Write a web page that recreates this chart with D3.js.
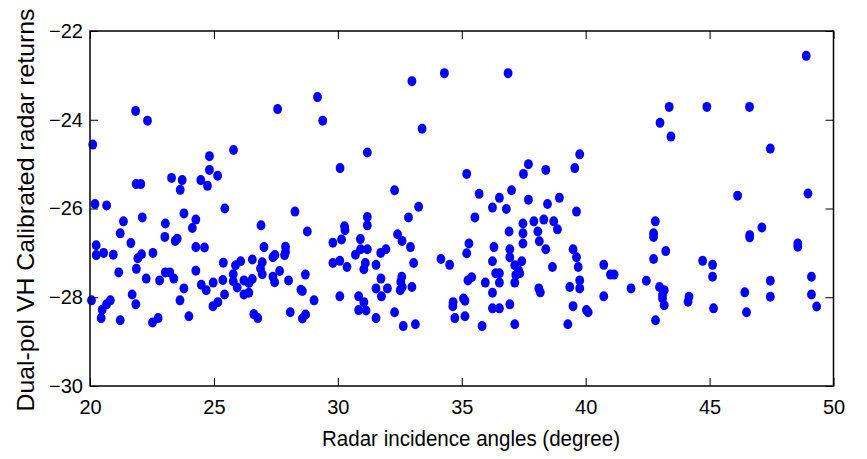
<!DOCTYPE html>
<html>
<head>
<meta charset="utf-8">
<script src="https://cdn.jsdelivr.net/npm/d3@7"></script>
<style>
  html, body { margin: 0; padding: 0; background: #fff; }
  svg { display: block; }
  text { font-family: "Liberation Sans", Arial, sans-serif; fill: #000; }
</style>
</head>
<body>
<svg id="chart" width="867" height="459"></svg>
<script>
// Data
const angles = [
  21.84,22.32,20.11,27.57,25.79,24.82,24.82,25.15,23.29,23.72,23.64,24.47,24.74,21.86,22.05,20.20,20.67,25.44,
  29.18,29.39,32.99,34.30,33.40,31.19,30.09,35.20,32.29,33.26,
  36.87,43.00,39.76,39.56,37.69,37.49,38.39,35.70,36.52,37.01,37.69,38.46,38.94,36.24,36.80,
  48.90,43.37,44.89,46.61,43.44,47.45,46.13,48.97,
  21.35,22.11,23.79,24.27,24.13,23.04,21.22,23.02,23.52,23.44,26.90,21.65,20.25,20.25,20.55,20.94,22.54,24.27,24.62,27.02,
  22.08,21.93,21.87,21.16,22.27,22.81,23.04,23.22,23.38,24.27,23.79,24.49,24.69,24.97,25.38,20.06,20.49,20.67,20.82,20.45,
  21.22,21.70,21.85,22.52,22.75,23.63,23.99,24.96,25.16,25.43,25.36,25.78,25.78,25.87,26.08,25.94,26.21,26.41,26.55,26.21,
  26.41,26.55,26.95,26.88,26.95,27.38,27.46,27.38,27.45,27.65,26.61,26.77,
  28.27,28.77,27.89,27.89,27.85,28.01,28.69,28.51,28.57,29.04,28.08,28.57,28.70,29.80,30.15,30.27,30.29,29.80,30.08,
  30.37,30.08,30.91,30.71,30.92,31.19,31.19,31.19,31.11,31.05,31.54,31.73,31.94,31.74,31.54,31.76,32.00,30.84,31.05,30.84,
  31.14,31.54,32.29,32.64,33.13,32.41,32.59,32.85,32.93,33.06,32.58,32.54,32.52,32.60,32.99,34.16,34.51,35.29,35.20,35.25,
  34.65,34.64,35.07,35.13,34.72,35.13,
  39.63,35.53,36.91,37.47,37.91,38.31,38.71,38.86,37.47,37.47,38.07,38.13,38.39,36.30,36.94,36.94,37.42,37.14,37.29,37.18,
  37.34,37.14,36.24,36.37,36.52,35.40,35.95,36.52,36.24,36.24,36.52,36.94,35.82,37.14,38.11,38.17,38.66,39.36,39.49,39.63,
  39.70,39.76,39.76,39.49,40.03,40.10,39.28,40.73,41.00,41.15,40.73,41.83,42.45,42.81,42.74,42.74,42.74,42.98,42.82,
  43.23,43.17,43.10,43.10,43.17,44.72,45.12,45.12,45.16,44.17,44.13,46.62,46.62,47.11,46.42,46.49,47.45,47.45,48.56,48.56,
  49.11,49.11,49.32
];
const returnsVH = [
  -23.80,-24.02,-24.56,-23.76,-24.68,-24.82,-25.13,-25.26,-25.31,-25.36,-25.58,-25.36,-25.49,-25.45,-25.45,-25.90,-25.93,-26.00,
  -23.49,-24.02,-23.13,-22.95,-24.20,-24.74,-25.09,-25.22,-25.59,-25.96,
  -22.95,-24.07,-24.78,-25.09,-25.00,-25.22,-25.13,-25.67,-25.76,-25.59,-25.80,-25.90,-25.76,-25.98,-26.01,
  -22.56,-23.71,-23.71,-23.71,-24.38,-24.65,-25.71,-25.66,
  -26.29,-26.20,-26.11,-26.25,-26.44,-26.34,-26.56,-26.64,-26.68,-26.73,-26.38,-26.78,-26.83,-27.05,-27.00,-27.04,-27.00,-26.87,-26.88,-26.87,
  -27.03,-27.12,-27.36,-27.44,-27.58,-27.62,-27.44,-27.44,-27.58,-27.40,-27.80,-27.72,-27.84,-27.67,-27.22,-28.07,-28.28,-28.16,-28.07,-28.47,
  -28.52,-27.94,-28.16,-28.57,-28.47,-28.07,-28.43,-28.20,-28.11,-27.94,-27.61,-27.64,-27.48,-27.28,-27.19,-27.78,-27.62,-27.68,-27.59,-27.94,
  -27.90,-27.15,-27.21,-27.35,-27.48,-27.10,-27.05,-27.54,-27.66,-27.41,-28.38,-28.47,
  -26.07,-26.52,-26.86,-26.98,-27.05,-27.62,-27.49,-27.83,-27.86,-28.07,-28.34,-28.48,-28.39,-26.77,-26.70,-26.40,-26.49,-27.23,-27.18,
  -27.32,-27.98,-26.69,-27.04,-26.92,-26.92,-26.19,-26.38,-27.23,-27.37,-27.27,-27.00,-26.92,-27.58,-27.80,-27.98,-27.80,-27.98,-28.11,-28.29,
  -28.30,-28.47,-28.34,-28.65,-28.61,-26.58,-26.73,-26.20,-26.87,-27.23,-27.54,-27.65,-27.84,-27.77,-27.77,-27.14,-27.27,-26.79,-27.01,-27.62,
  -28.11,-28.20,-28.03,-28.08,-28.47,-28.43,
  -26.07,-26.20,-26.52,-26.34,-26.29,-26.25,-26.29,-26.47,-26.56,-26.79,-26.52,-26.74,-26.92,-26.87,-26.92,-27.10,-27.19,-27.28,-27.39,-27.50,
  -27.46,-27.67,-27.19,-27.46,-27.46,-27.55,-27.67,-27.67,-27.90,-28.25,-28.25,-28.16,-28.65,-28.61,-27.80,-27.89,-27.32,-27.77,-26.92,-27.10,
  -27.32,-27.62,-27.80,-28.20,-28.29,-28.34,-28.61,-27.27,-27.49,-27.49,-27.98,-27.80,-27.63,-26.29,-26.56,-26.64,-27.14,-27.77,-28.52,
  -26.96,-27.84,-27.95,-28.03,-28.18,-27.18,-27.27,-27.54,-28.25,-27.99,-28.10,-26.60,-26.65,-26.43,-27.89,-28.34,-27.63,-27.99,-26.79,-26.86,
  -27.54,-27.94,-28.21
];
const xTicks = [20, 25, 30, 35, 40, 45, 50];
const yTicks = [-30, -28, -26, -24, -22];
const xTitle = "Radar incidence angles (degree)";
const yTitle = "Dual-pol VH Calibrated radar returns";

const points = angles.map((a, i) => ({ x: a, y: returnsVH[i] }));

const svg = d3.select("#chart");
const pLeft = 90, pRight = 833.5, pTop = 31, pBottom = 386;

const x = d3.scaleLinear().domain([20, 50]).range([pLeft, pRight]);
const y = d3.scaleLinear().domain([-30, -22]).range([pBottom, pTop]);

// Points
svg.append("g")
  .selectAll("ellipse")
  .data(points)
  .join("ellipse")
  .attr("cx", d => x(d.x))
  .attr("cy", d => y(d.y))
  .attr("rx", 4.4)
  .attr("ry", 5)
  .attr("fill", "#0000ff");

// Axes (MATLAB style: ticks inward on all sides)
const tickLen = 8;
const fontSize = 20;

const gx = svg.append("g")
  .attr("transform", `translate(0,${pBottom})`)
  .call(d3.axisBottom(x).tickValues(xTicks).tickFormat(d3.format("d"))
    .tickSizeInner(-tickLen).tickSizeOuter(0).tickPadding(14));
const gxt = svg.append("g")
  .attr("transform", `translate(0,${pTop})`)
  .call(d3.axisTop(x).tickValues(xTicks).tickFormat("")
    .tickSizeInner(-tickLen).tickSizeOuter(0));
const gy = svg.append("g")
  .attr("transform", `translate(${pLeft},0)`)
  .call(d3.axisLeft(y).tickValues(yTicks).tickFormat(d3.format("d"))
    .tickSizeInner(-tickLen).tickSizeOuter(0).tickPadding(7));
const gyr = svg.append("g")
  .attr("transform", `translate(${pRight},0)`)
  .call(d3.axisRight(y).tickValues(yTicks).tickFormat("")
    .tickSizeInner(-tickLen).tickSizeOuter(0));

[gx, gxt, gy, gyr].forEach(g => {
  g.select(".domain").remove();
  g.selectAll(".tick line").attr("stroke", "#000").attr("stroke-width", 1);
  g.selectAll(".tick text")
    .style("font-family", '"Liberation Sans", Arial, sans-serif')
    .style("font-size", fontSize + "px")
    .attr("fill", "#000");
});

// Frame
svg.append("rect")
  .attr("x", pLeft).attr("y", pTop)
  .attr("width", pRight - pLeft).attr("height", pBottom - pTop)
  .attr("fill", "none").attr("stroke", "#000").attr("stroke-width", 1.5);

// Axis titles
svg.append("text")
  .attr("x", 471)
  .attr("y", 446)
  .attr("text-anchor", "middle")
  .attr("textLength", 298)
  .attr("lengthAdjust", "spacingAndGlyphs")
  .style("font-size", "22px")
  .text(xTitle);

svg.append("text")
  .attr("transform", `translate(34,210) rotate(-90)`)
  .attr("text-anchor", "middle")
  .attr("textLength", 403)
  .attr("lengthAdjust", "spacingAndGlyphs")
  .style("font-size", "24px")
  .text(yTitle);
</script>
</body>
</html>
